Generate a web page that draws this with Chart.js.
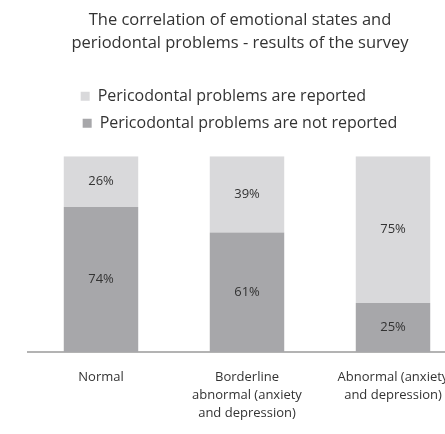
<!DOCTYPE html>
<html>
<head>
<meta charset="utf-8">
<script src="https://cdn.jsdelivr.net/npm/chart.js@4"></script>
<style>
  html, body { margin: 0; padding: 0; background: #fff; overflow: hidden; }
  #wrap { width: 445px; height: 434px; overflow: hidden; }
</style>
</head>
<body>
<div id="wrap"><canvas id="myChart" width="470" height="434"></canvas></div>
<script>
var categories = [
    ['Normal'],
    ['Borderline', 'abnormal (anxiety', 'and depression)'],
    ['Abnormal (anxiety', 'and depression)']
];
var notReported = [74, 61, 25];
var reported = [26, 39, 75];

// writes the percentage in the middle of every bar segment
var valueLabels = {
    id: 'valueLabels',
    afterDatasetsDraw: function (chart) {
        var ctx = chart.ctx;
        ctx.save();
        ctx.font = '13px "Open Sans"';
        ctx.fillStyle = '#333';
        ctx.textAlign = 'center';
        ctx.textBaseline = 'middle';
        chart.data.datasets.forEach(function (ds, i) {
            chart.getDatasetMeta(i).data.forEach(function (bar, j) {
                var p = bar.getCenterPoint();
                ctx.fillText(ds.data[j] + '%', p.x, p.y);
            });
        });
        ctx.restore();
    }
};

// a bit more room between the legend and the bars
var legendGap = {
    id: 'legendGap',
    afterInit: function (chart) {
        var fit = chart.legend.fit;
        chart.legend.fit = function () {
            fit.bind(chart.legend)();
            this.height += 15;
        };
    }
};

var ctx = document.getElementById('myChart').getContext('2d');
var myChart = new Chart(ctx, {
    type: 'bar',
    data: {
        labels: categories,
        datasets: [{
            label: 'Pericodontal problems are not reported',
            data: notReported,
            backgroundColor: '#a7a7aa'
        }, {
            // trailing spaces so both legend rows start at the same x
            label: 'Pericodontal problems are reported' + '        ',
            data: reported,
            backgroundColor: '#d9d9db'
        }]
    },
    options: {
        responsive: false,
        animation: false,
        layout: {
            padding: { left: 14, right: 4, top: 9, bottom: 0 }
        },
        datasets: {
            bar: { categoryPercentage: 1, barPercentage: 0.51 }
        },
        plugins: {
            title: {
                display: true,
                text: ['The correlation of emotional states and', 'periodontal problems - results of the survey'],
                color: '#333',
                font: { family: 'Open Sans', size: 16.5, weight: 'normal', lineHeight: 1.4 },
                padding: { top: 0, bottom: 22 }
            },
            legend: {
                reverse: true,
                labels: {
                    boxWidth: 9,
                    boxHeight: 9,
                    color: '#333',
                    padding: 11,
                    font: { family: 'Open Sans', size: 16 }
                }
            },
            tooltip: { enabled: false }
        },
        scales: {
            x: {
                stacked: true,
                grid: { display: false },
                border: { display: true, color: '#b3b3b3', width: 2 },
                ticks: {
                    color: '#333',
                    font: { family: 'Open Sans', size: 13, lineHeight: 1.35 },
                    padding: 9,
                    maxRotation: 0
                },
                afterFit: function (scale) { scale.height = 82; }
            },
            y: {
                stacked: true,
                min: 0,
                max: 100,
                grid: { display: false },
                border: { display: false },
                ticks: { display: false },
                afterFit: function (scale) { scale.width = 14; }
            }
        }
    },
    plugins: [valueLabels, legendGap]
});
</script>
</body>
</html>
